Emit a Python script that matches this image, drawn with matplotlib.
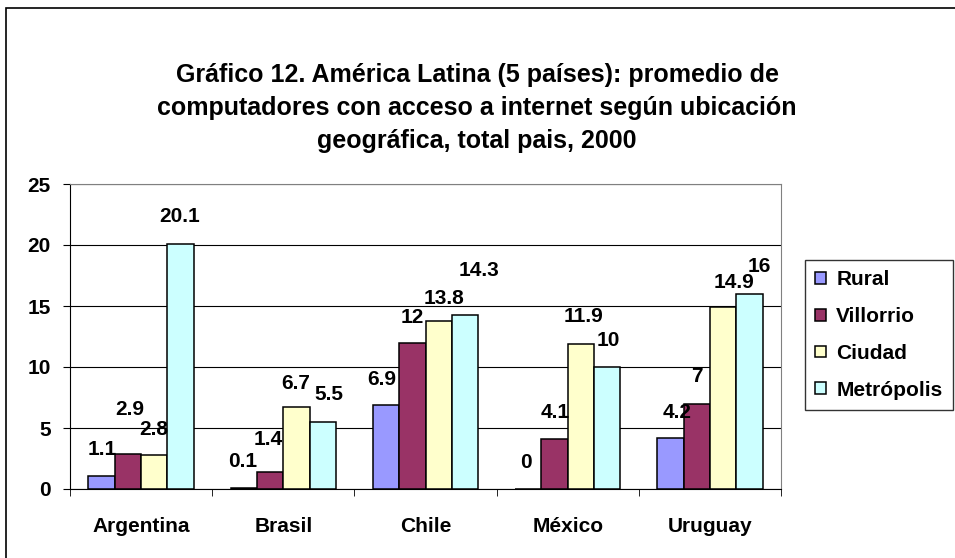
import matplotlib.pyplot as plt
import matplotlib.patches as mpatches
import numpy as np

plt.rcParams['font.family'] = ['Liberation Sans', 'DejaVu Sans']
plt.rcParams['font.weight'] = 'bold'

countries = ['Argentina', 'Brasil', 'Chile', 'México', 'Uruguay']
series = ['Rural', 'Villorrio', 'Ciudad', 'Metrópolis']
rural = [1.1, 0.1, 6.9, 0, 4.2]
villorrio = [2.9, 1.4, 12, 4.1, 7]
ciudad = [2.8, 6.7, 13.8, 11.9, 14.9]
metropolis = [20.1, 5.5, 14.3, 10, 16]
colors = ['#9999FF', '#993366', '#FFFFCC', '#CCFFFF']

# label nudges in pixels (dx, dy above bar top), like the excel layout
nudge_dx = [[1, -1, -4, -2, 7],
            [2, -2, 0, 1, 0],
            [-1, -1, 5, 3, 11],
            [-1, 6, 14, 1, 10]]
nudge_dy = [[26, 26, 25, 27, 25],
            [44, 32, 25, 26, 27],
            [25, 24, 22, 27, 25],
            [27, 27, 44, 27, 27]]

W, H = 955, 558
fig = plt.figure(figsize=(W / 100, H / 100), dpi=100)
ax = fig.add_axes([70 / W, (H - 489) / H, 711 / W, (489 - 184) / H])

# outer chart border
fig.patches.append(mpatches.Rectangle((6 / W, -0.05), 1.1, (H - 8) / H + 0.05,
                                      transform=fig.transFigure, fill=False,
                                      edgecolor='black', linewidth=1.2))

x = np.arange(len(countries))
w = 0.185
data = [rural, villorrio, ciudad, metropolis]
for i, (name, vals) in enumerate(zip(series, data)):
    pos = x + (i - 1.5) * w
    ax.bar(pos, vals, w, color=colors[i], edgecolor='black', linewidth=1.1,
           label=name, zorder=3)
    for j, v in enumerate(vals):
        ax.annotate(f'{v:g}', (pos[j], v),
                    xytext=(nudge_dx[i][j] * 0.72, nudge_dy[i][j] * 0.72),
                    textcoords='offset points', ha='center', va='center',
                    fontsize=15, fontweight='bold', zorder=4)

ax.set_xlim(-0.5, len(countries) - 0.5)
ax.set_ylim(0, 25)
ax.set_yticks([0, 5, 10, 15, 20, 25])
ax.yaxis.grid(True, color='black', linewidth=0.8, zorder=0)
ax.set_xticks(x)
ax.set_xticklabels(countries, fontsize=15, fontweight='bold')
ax.set_xticks(np.arange(len(countries) + 1) - 0.5, minor=True)
ax.tick_params(axis='x', which='major', length=0, pad=20)
ax.tick_params(axis='x', which='minor', length=5, direction='out', color='black')
ax.tick_params(axis='y', length=5, direction='out', labelsize=15, pad=9)
for lab in ax.get_yticklabels():
    lab.set_fontweight('bold')

for s in ['top', 'right']:
    ax.spines[s].set_color('#808080')
ax.spines['left'].set_color('black')
ax.spines['bottom'].set_color('black')

fig.text(477 / W, 1 - 108 / H,
         'Gráfico 12. América Latina (5 países): promedio de\n'
         'computadores con acceso a internet según ubicación\n'
         'geográfica, total pais, 2000',
         ha='center', va='center', fontsize=18, fontweight='bold',
         linespacing=1.45)

leg = fig.legend(loc='upper left', bbox_to_anchor=(805 / W, 1 - 260 / H),
                 frameon=True, fancybox=False, edgecolor='black',
                 prop={'size': 15, 'weight': 'bold'}, handlelength=0.5,
                 handleheight=0.5, handletextpad=0.5, labelspacing=0.85,
                 borderpad=0.5, borderaxespad=0)
leg.get_frame().set_linewidth(1)

fig.savefig('out.png', dpi=100)
